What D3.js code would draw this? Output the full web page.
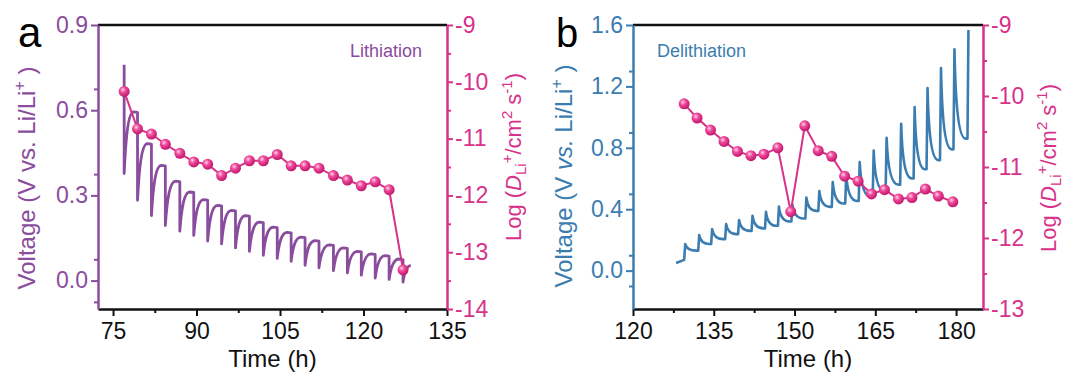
<!DOCTYPE html>
<html>
<head>
<meta charset="utf-8">
<script src="https://cdn.jsdelivr.net/npm/d3@7"></script>
<style>
  body { margin: 0; background: #fff; }
  svg { font-family: "Liberation Sans", Arial, sans-serif; }
</style>
</head>
<body>
<div id="container"></div>
<script>
/* DATA */
// panel a: lithiation GITT (time in h, voltage in V)
const aStartV = 0.76;
const aEndTime = 128.5;
const aPulseTime = [77.0, 79.4, 81.9, 84.4, 87.0, 89.5, 92.0, 94.5, 97.0, 99.5, 102.0,
  104.5, 107.0, 109.5, 112.0, 114.6, 117.1, 119.6, 122.1, 124.6, 127.1];
const aPulseLow = [0.377, 0.283, 0.229, 0.194, 0.174, 0.159, 0.139, 0.129, 0.115, 0.103, 0.089,
  0.078, 0.068, 0.054, 0.045, 0.035, 0.027, 0.019, 0.009, 0.004, -0.005];
const aRelaxV = [0.594, 0.482, 0.406, 0.350, 0.312, 0.285, 0.265, 0.247, 0.229, 0.206, 0.188,
  0.170, 0.153, 0.141, 0.126, 0.115, 0.103, 0.094, 0.088, 0.076, 0.053];
const aLogD = [-10.17, -10.83, -10.92, -11.10, -11.26, -11.41, -11.45, -11.65, -11.52, -11.39, -11.39,
  -11.28, -11.48, -11.48, -11.52, -11.65, -11.73, -11.83, -11.76, -11.90, -13.31];

// panel b: delithiation GITT
const bStartTime = [128.0, 129.5];
const bStartV = [0.05, 0.07];
const bPulseTime = [129.7, 132.3, 134.7, 137.3, 139.7, 142.2, 144.7, 147.1, 149.6, 152.2, 154.6,
  157.1, 159.6, 162.1, 164.7, 167.1, 169.8, 172.3, 174.7, 177.2, 179.7, 182.3];
const bPeakV = [0.173, 0.231, 0.27, 0.303, 0.329, 0.357, 0.383, 0.417, 0.43, 0.476, 0.519,
  0.577, 0.627, 0.707, 0.782, 0.865, 0.957, 1.066, 1.189, 1.319, 1.442, 1.567];
const bRelaxV = [0.13, 0.173, 0.205, 0.238, 0.259, 0.275, 0.292, 0.32, 0.34, 0.389, 0.415,
  0.437, 0.454, 0.48, 0.52, 0.56, 0.60, 0.66, 0.72, 0.79, 0.86];
const bDiffTime = [129.5, 131.9, 134.4, 136.9, 139.4, 141.9, 144.3, 146.9, 149.3, 151.9, 154.4,
  156.9, 159.3, 161.8, 164.3, 166.7, 169.3, 171.8, 174.3, 176.7, 179.4];
const bLogD = [-10.11, -10.31, -10.48, -10.64, -10.78, -10.84, -10.82, -10.73, -11.63, -10.42, -10.77,
  -10.85, -11.13, -11.20, -11.38, -11.32, -11.45, -11.43, -11.31, -11.41, -11.49];

// tick labels
const aTimeTicks = [75, 90, 105, 120, 135];
const bTimeTicks = [120, 135, 150, 165, 180];
const aVoltTicks = [0.0, 0.3, 0.6, 0.9];
const bVoltTicks = [0.0, 0.4, 0.8, 1.2, 1.6];
const aLogTicks = [-14, -13, -12, -11, -10, -9];
const bLogTicks = [-13, -12, -11, -10, -9];

/* CONSTANTS */
const W = 1067, H = 377;
const purple = "#8a4c9d", blue = "#3b7db1", pink = "#d7328a";

const svg = d3.select("#container").append("svg")
  .attr("width", W).attr("height", H);

const grad = svg.append("defs").append("radialGradient")
  .attr("id", "ball").attr("cx", "38%").attr("cy", "35%").attr("r", "65%");
grad.append("stop").attr("offset", "0%").attr("stop-color", "#ffd2e8");
grad.append("stop").attr("offset", "40%").attr("stop-color", "#ef4a9b");
grad.append("stop").attr("offset", "100%").attr("stop-color", "#c0176c");

const panels = [
  {
    letter: "a", left: 98, right: 447, top: 25, bottom: 309,
    xDomain: [72.3, 135], xTicks: aTimeTicks,
    yDomain: [-0.1, 0.9], yTicks: aVoltTicks, yMinorStep: 0.15,
    rDomain: [-14, -9], rTicks: aLogTicks,
    color: purple, label: "Lithiation", labelX: 350,
    vTitleX: 35, vTitleY: 178, lTitleX: 521, lTitleY: 157
  },
  {
    letter: "b", left: 633, right: 983, top: 25, bottom: 309,
    xDomain: [120, 185], xTicks: bTimeTicks,
    yDomain: [-0.25, 1.6], yTicks: bVoltTicks, yMinorStep: 0.2,
    rDomain: [-13, -9], rTicks: bLogTicks,
    color: blue, label: "Delithiation", labelX: 657,
    vTitleX: 572, vTitleY: 176, lTitleX: 1056, lTitleY: 168
  }
];

panels.forEach(p => {
  const x = d3.scaleLinear().domain(p.xDomain).range([p.left, p.right]);
  const y = d3.scaleLinear().domain(p.yDomain).range([p.bottom, p.top]);
  const yr = d3.scaleLinear().domain(p.rDomain).range([p.bottom, p.top]);
  p.x = x; p.y = y; p.yr = yr;

  const g = svg.append("g");

  // minor ticks
  const xMinor = d3.range(p.xTicks[0] - 7.5, p.xDomain[1] + 0.01, 15).filter(v => v > p.xDomain[0] && v < p.xDomain[1]);
  const yMinor = p.yTicks.map(v => v + p.yMinorStep / 2).concat([p.yTicks[0] - p.yMinorStep / 2])
    .filter(v => v > p.yDomain[0] && v < p.yDomain[1]);
  const rMinor = p.rTicks.map(v => v + 0.5).filter(v => v < p.rDomain[1]);

  // bottom axis
  g.append("g").attr("transform", `translate(0,${p.bottom})`)
    .call(d3.axisBottom(x).tickValues(xMinor).tickSize(4).tickSizeOuter(0).tickFormat(""))
    .call(a => a.select(".domain").remove())
    .call(a => a.selectAll("line").attr("stroke", "#111").attr("stroke-width", 2));
  g.append("g").attr("transform", `translate(0,${p.bottom})`)
    .call(d3.axisBottom(x).tickValues(p.xTicks).tickSize(7).tickSizeOuter(0).tickPadding(7))
    .call(a => a.select(".domain").attr("stroke", "#111").attr("stroke-width", 2.5))
    .call(a => a.selectAll("line").attr("stroke", "#111").attr("stroke-width", 2))
    .call(a => a.selectAll("text").attr("fill", "#111").attr("font-size", 23).attr("font-family", "Liberation Sans, Arial"));

  // top line
  g.append("line").attr("x1", p.left).attr("x2", p.right)
    .attr("y1", p.top).attr("y2", p.top).attr("stroke", "#111").attr("stroke-width", 2.5);

  // left axis
  g.append("g").attr("transform", `translate(${p.left},0)`)
    .call(d3.axisLeft(y).tickValues(yMinor).tickSize(4).tickSizeOuter(0).tickFormat(""))
    .call(a => a.select(".domain").remove())
    .call(a => a.selectAll("line").attr("stroke", p.color).attr("stroke-width", 2));
  g.append("g").attr("transform", `translate(${p.left},0)`)
    .call(d3.axisLeft(y).tickValues(p.yTicks).tickSize(7).tickSizeOuter(0).tickPadding(3).tickFormat(d3.format(".1f")))
    .call(a => a.select(".domain").attr("stroke", p.color).attr("stroke-width", 2.5))
    .call(a => a.selectAll("line").attr("stroke", p.color).attr("stroke-width", 2))
    .call(a => a.selectAll("text").attr("fill", p.color).attr("font-size", 23).attr("font-family", "Liberation Sans, Arial"));

  // right axis
  g.append("g").attr("transform", `translate(${p.right},0)`)
    .call(d3.axisRight(yr).tickValues(rMinor).tickSize(4).tickSizeOuter(0).tickFormat(""))
    .call(a => a.select(".domain").remove())
    .call(a => a.selectAll("line").attr("stroke", pink).attr("stroke-width", 2));
  g.append("g").attr("transform", `translate(${p.right},0)`)
    .call(d3.axisRight(yr).tickValues(p.rTicks).tickSize(6).tickSizeOuter(0).tickPadding(2).tickFormat(d => "-" + Math.abs(d)))
    .call(a => a.select(".domain").attr("stroke", pink).attr("stroke-width", 2.5))
    .call(a => a.selectAll("line").attr("stroke", pink).attr("stroke-width", 2))
    .call(a => a.selectAll("text").attr("fill", pink).attr("font-size", 23).attr("font-family", "Liberation Sans, Arial"));

  // titles
  g.append("text").attr("x", (p.left + p.right) / 2).attr("y", 367)
    .attr("text-anchor", "middle").attr("font-size", 24).attr("fill", "#111").text("Time (h)");

  const vt = g.append("text").attr("transform", `translate(${p.vTitleX},${p.vTitleY}) rotate(-90)`)
    .attr("text-anchor", "middle").attr("font-size", 24).attr("fill", p.color);
  vt.append("tspan").text("Voltage (V ");
  vt.append("tspan").attr("font-style", p.letter === "b" ? "italic" : "normal").text("vs.");
  vt.append("tspan").text(" Li/Li");
  vt.append("tspan").attr("dy", -10).attr("font-size", 16).text("+");
  vt.append("tspan").attr("dy", 10).text(" )");

  const lt = g.append("text").attr("transform", `translate(${p.lTitleX},${p.lTitleY}) rotate(-90)`)
    .attr("text-anchor", "middle").attr("font-size", 22).attr("fill", pink);
  lt.append("tspan").text("Log (");
  lt.append("tspan").attr("font-style", "italic").text("D");
  lt.append("tspan").attr("dy", 5).attr("font-size", 15).text("Li");
  lt.append("tspan").attr("dy", -14).attr("font-size", 15).text("+");
  lt.append("tspan").attr("dy", 9).text("/cm");
  lt.append("tspan").attr("dy", -9).attr("font-size", 15).text("2");
  lt.append("tspan").attr("dy", 9).text(" s");
  lt.append("tspan").attr("dy", -9).attr("font-size", 15).text("-1");
  lt.append("tspan").attr("dy", 9).text(")");

  g.append("text").attr("x", p.letter === "a" ? 18 : 556).attr("y", 47)
    .attr("font-size", p.letter === "a" ? 42 : 40).attr("fill", "#000").text(p.letter);

  g.append("text").attr("x", p.labelX).attr("y", 57).attr("font-size", 18)
    .attr("fill", p.color).text(p.label);
});

/* VOLTAGE CURVES */
// a: each pulse drops the voltage, then it relaxes back up
{
  const p = panels[0], x = p.x, y = p.y;
  const path = d3.path();
  path.moveTo(x(aPulseTime[0]), y(aStartV));
  aPulseTime.forEach((t, i) => {
    const last = i === aPulseTime.length - 1;
    const next = last ? aEndTime : aPulseTime[i + 1];
    const x0 = x(t) + 0.6, y0 = y(aPulseLow[i]);
    path.lineTo(x(t), y0);
    const x1 = last ? x(next) : x0 + (x(next) - x0) * 0.7;
    const y1 = y(aRelaxV[i]);
    const dx = x1 - x0;
    path.bezierCurveTo(x0 + dx * 0.12, y0 + (y1 - y0) * 0.6, x0 + dx * 0.4, y1, x1, y1);
    if (!last) path.lineTo(x(next), y1 + 0.5);
  });
  svg.append("path").attr("d", path.toString()).attr("fill", "none")
    .attr("stroke", purple).attr("stroke-width", 2.8).attr("stroke-linejoin", "round");
}
// b: each pulse raises the voltage, then it relaxes down
{
  const p = panels[1], x = p.x, y = p.y;
  const path = d3.path();
  path.moveTo(x(bStartTime[0]), y(bStartV[0]));
  path.lineTo(x(bStartTime[1]), y(bStartV[1]));
  bPulseTime.forEach((t, i) => {
    const x0 = x(t), y0 = y(bPeakV[i]);
    path.lineTo(x0, y0);
    if (i < bRelaxV.length) {
      const xn = x(bPulseTime[i + 1]);
      const x1 = x0 + (xn - x0) * 0.8, y1 = y(bRelaxV[i]);
      const dx = x1 - x0;
      path.bezierCurveTo(x0 + dx * 0.1, y0 + (y1 - y0) * 0.65, x0 + dx * 0.4, y1, x1, y1);
      path.lineTo(xn - 1, y1);
    }
  });
  svg.append("path").attr("d", path.toString()).attr("fill", "none")
    .attr("stroke", blue).attr("stroke-width", 2.6).attr("stroke-linejoin", "round");
}

/* DIFFUSION COEFFICIENTS */
[[panels[0], aPulseTime, aLogD], [panels[1], bDiffTime, bLogD]].forEach(([p, ts, ds]) => {
  const pts = ts.map((t, i) => [p.x(t), p.yr(ds[i])]);
  svg.append("path").attr("d", d3.line()(pts)).attr("fill", "none")
    .attr("stroke", pink).attr("stroke-width", 2);
  svg.append("g").selectAll("circle").data(pts).join("circle")
    .attr("cx", d => d[0]).attr("cy", d => d[1]).attr("r", 5.5)
    .attr("fill", "url(#ball)");
});
</script>
</body>
</html>
